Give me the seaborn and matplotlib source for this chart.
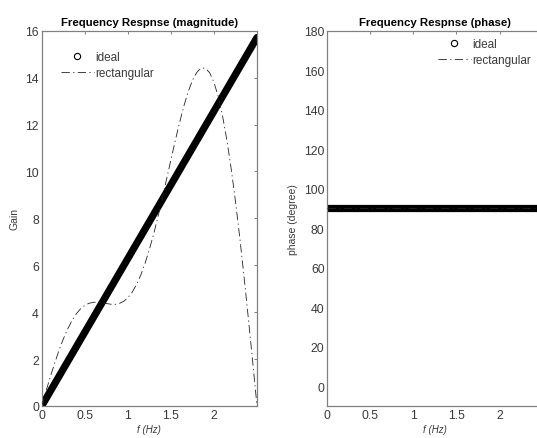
import matplotlib
matplotlib.use("Agg")
import matplotlib.pyplot as plt
from matplotlib.lines import Line2D
import seaborn as sns
import pandas as pd

# ---- data ----
freq = [0.00, 0.05, 0.10, 0.15, 0.20, 0.25, 0.30, 0.35, 0.40, 0.45,
        0.50, 0.55, 0.60, 0.65, 0.70, 0.75, 0.80, 0.85, 0.90, 0.95,
        1.00, 1.05, 1.10, 1.15, 1.20, 1.25, 1.30, 1.35, 1.40, 1.45,
        1.50, 1.55, 1.60, 1.65, 1.70, 1.75, 1.80, 1.85, 1.90, 1.95,
        2.00, 2.05, 2.10, 2.15, 2.20, 2.25, 2.30, 2.35, 2.40, 2.45, 2.50]
rect_gain = [0.00, 0.63, 1.24, 1.82, 2.36, 2.85, 3.27, 3.63, 3.92, 4.14,
             4.29, 4.38, 4.42, 4.43, 4.40, 4.37, 4.34, 4.33, 4.37, 4.46,
             4.61, 4.85, 5.17, 5.58, 6.08, 6.67, 7.33, 8.07, 8.85, 9.67,
             10.49, 11.30, 12.07, 12.78, 13.39, 13.88, 14.22, 14.41, 14.40, 14.21,
             13.80, 13.19, 12.37, 11.34, 10.12, 8.73, 7.18, 5.50, 3.72, 1.88, 0.00]
rect_phase = [90.0] * 51
ideal_freq = [0.0, 2.5]
ideal_gain = [0.0, 15.71]
ideal_phase = [90.0, 90.0]

titles = ["Frequency Respnse (magnitude)", "Frequency Respnse (phase)"]
ylabels = ["Gain", "phase (degree)"]
legend_labels = ["ideal", "rectangular"]

sns.set_theme(style="white")
plt.rcParams["font.family"] = ["Liberation Sans", "DejaVu Sans"]

GRAY_TXT = "#3a3a3a"
GRAY_AX = "#808080"

fig = plt.figure(figsize=(5.37, 4.39), dpi=100)
fig.patch.set_facecolor("white")
W, H = 537.0, 439.0
axL = fig.add_axes([41.7 / W, 1 - 407 / H, 215.3 / W, 375.3 / H])
axR = fig.add_axes([327.3 / W, 1 - 407 / H, 215.3 / W, 375.3 / H])

rect_df = pd.DataFrame({"f": freq, "gain": rect_gain, "phase": rect_phase})
ideal_df = pd.DataFrame({"f": ideal_freq, "gain": ideal_gain, "phase": ideal_phase})

dash = (0, (10, 4, 1.5, 4))

for ax, col in [(axL, "gain"), (axR, "phase")]:
    sns.lineplot(data=ideal_df, x="f", y=col, ax=ax, color="black",
                 linewidth=5.2, solid_capstyle="round", zorder=2)
    sns.lineplot(data=rect_df, x="f", y=col, ax=ax, color="#222222",
                 linewidth=0.6, linestyle=dash, zorder=3)

axL.set_xlim(0, 2.5)
axL.set_ylim(0, 16)
axL.set_yticks(range(0, 17, 2))
axR.set_xlim(0, 2.5)
axR.set_ylim(-10, 180)
axR.set_yticks(range(0, 181, 20))

for ax, t, yl in zip([axL, axR], titles, ylabels):
    ax.set_xticks([0, 0.5, 1, 1.5, 2])
    ax.set_xticklabels(["0", "0.5", "1", "1.5", "2"])
    ax.set_title(t, fontsize=8.2, fontweight="bold", color="black", pad=4)
    ax.set_xlabel("f (Hz)", fontsize=7, fontstyle="italic", color=GRAY_TXT, labelpad=2)
    ax.set_ylabel(yl, fontsize=7.5, color=GRAY_TXT, labelpad=4)
    ax.tick_params(direction="in", length=2.5, width=0.7, colors=GRAY_AX,
                   labelcolor=GRAY_TXT, labelsize=8.8, top=True, right=True,
                   pad=2)
    for s in ax.spines.values():
        s.set_color(GRAY_AX)
        s.set_linewidth(0.9)
    ax.set_facecolor("white")
    handles = [Line2D([], [], marker="o", linestyle="none", markersize=4.5,
                      markerfacecolor="white", markeredgecolor="black",
                      markeredgewidth=0.8),
               Line2D([], [], color="#222222", linewidth=0.6, linestyle=dash)]
    if ax is axL:
        anchor = (0.055, 0.965)
    else:
        anchor = (0.48, 1.0)
    leg = ax.legend(handles, legend_labels, loc="upper left", bbox_to_anchor=anchor,
                    frameon=False, fontsize=8.5, handlelength=2.8,
                    handletextpad=0.1, labelspacing=0.35, borderaxespad=0.2)
    for txt in leg.get_texts():
        txt.set_color(GRAY_TXT)

fig.savefig("out.png", dpi=100, facecolor="white")
